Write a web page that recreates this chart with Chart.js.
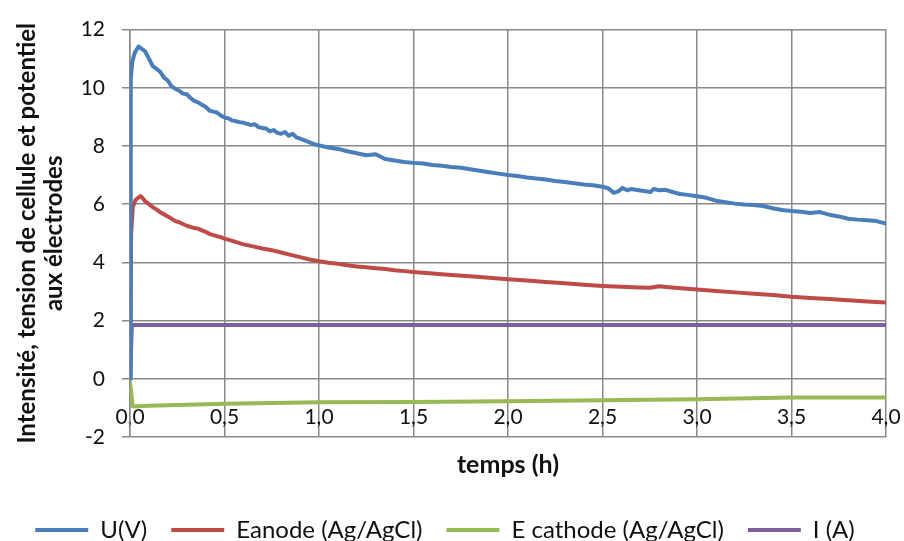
<!DOCTYPE html>
<html>
<head>
<meta charset="utf-8">
<script src="https://cdn.jsdelivr.net/npm/chart.js@4.4.0/dist/chart.umd.min.js"></script>
<style>
  html, body { margin: 0; padding: 0; background: #fff; }
  #wrap { width: 904px; height: 541px; }
</style>
</head>
<body>
<div id="wrap"><canvas id="cellChart"></canvas></div>
<script>
// temps (h) et valeurs
const uTimes = [0, 0.004, 0.012, 0.025, 0.045, 0.06, 0.08, 0.1, 0.12, 0.14, 0.16, 0.18, 0.2, 0.22, 0.24, 0.26, 0.28, 0.3,
  0.32, 0.34, 0.36, 0.38, 0.4, 0.42, 0.44, 0.46, 0.48, 0.5, 0.52, 0.54, 0.56, 0.58, 0.6, 0.62, 0.64, 0.66, 0.68, 0.7,
  0.72, 0.74, 0.76, 0.78, 0.8, 0.82, 0.84, 0.86, 0.88, 0.9, 0.92, 0.94, 0.96, 0.98, 1.0, 1.05, 1.1, 1.15, 1.2, 1.25,
  1.3, 1.35, 1.4, 1.45, 1.5, 1.55, 1.6, 1.65, 1.7, 1.75, 1.8, 1.85, 1.9, 1.95, 2.0, 2.05, 2.1, 2.15, 2.2, 2.25, 2.3,
  2.35, 2.4, 2.45, 2.5, 2.53, 2.56, 2.585, 2.605, 2.63, 2.65, 2.7, 2.755, 2.77, 2.8, 2.83, 2.87, 2.91, 2.95, 3.0,
  3.05, 3.1, 3.15, 3.2, 3.25, 3.3, 3.35, 3.4, 3.45, 3.5, 3.55, 3.6, 3.65, 3.7, 3.75, 3.8, 3.85, 3.9, 3.95, 4.0];
const uValues = [0, 10.3, 10.9, 11.2, 11.42, 11.35, 11.25, 11.0, 10.75, 10.65, 10.55, 10.35, 10.25, 10.05, 9.97, 9.9, 9.8, 9.78,
  9.65, 9.55, 9.5, 9.42, 9.35, 9.22, 9.18, 9.15, 9.05, 8.98, 8.95, 8.88, 8.85, 8.82, 8.8, 8.76, 8.72, 8.75, 8.65, 8.62,
  8.6, 8.5, 8.55, 8.45, 8.42, 8.48, 8.35, 8.42, 8.3, 8.25, 8.2, 8.15, 8.1, 8.05, 8.02, 7.95, 7.9, 7.82, 7.75, 7.68,
  7.72, 7.55, 7.5, 7.45, 7.42, 7.4, 7.35, 7.32, 7.28, 7.25, 7.2, 7.15, 7.1, 7.05, 7.0, 6.97, 6.92, 6.88, 6.85, 6.8, 6.76,
  6.72, 6.68, 6.65, 6.6, 6.55, 6.39, 6.45, 6.56, 6.48, 6.52, 6.47, 6.42, 6.52, 6.48, 6.5, 6.42, 6.35, 6.32, 6.27,
  6.22, 6.12, 6.07, 6.02, 5.99, 5.97, 5.94, 5.86, 5.8, 5.77, 5.74, 5.7, 5.73, 5.64, 5.58, 5.5, 5.47, 5.45, 5.42, 5.33];

const eaTimes = [0, 0.006, 0.015, 0.03, 0.055, 0.065, 0.08, 0.1, 0.12, 0.14, 0.16, 0.18, 0.2, 0.22, 0.24, 0.26, 0.28, 0.3,
  0.32, 0.34, 0.36, 0.38, 0.4, 0.42, 0.44, 0.46, 0.48, 0.5, 0.55, 0.6, 0.65, 0.7, 0.75, 0.8, 0.85, 0.9, 0.95, 1.0, 1.05,
  1.1, 1.15, 1.2, 1.25, 1.3, 1.35, 1.4, 1.45, 1.5, 1.6, 1.7, 1.8, 1.9, 2.0, 2.1, 2.2, 2.3, 2.4, 2.5, 2.6, 2.7, 2.75,
  2.8, 2.85, 2.9, 3.0, 3.1, 3.2, 3.3, 3.4, 3.5, 3.6, 3.7, 3.8, 3.9, 4.0];
const eaValues = [0, 5.0, 5.9, 6.15, 6.28, 6.22, 6.1, 6.0, 5.9, 5.82, 5.72, 5.65, 5.58, 5.5, 5.42, 5.38, 5.32, 5.26,
  5.22, 5.18, 5.16, 5.1, 5.05, 4.98, 4.94, 4.9, 4.87, 4.82, 4.72, 4.62, 4.55, 4.48, 4.42, 4.34, 4.26, 4.18, 4.1, 4.04, 3.99,
  3.95, 3.9, 3.86, 3.83, 3.8, 3.77, 3.73, 3.7, 3.67, 3.62, 3.57, 3.52, 3.47, 3.42, 3.38, 3.33, 3.28, 3.23, 3.19, 3.16, 3.14, 3.13,
  3.18, 3.15, 3.12, 3.07, 3.02, 2.97, 2.92, 2.88, 2.82, 2.78, 2.74, 2.7, 2.66, 2.62];

const ecTimes = [0, 0.015, 0.1, 0.5, 1.0, 1.5, 2.0, 2.5, 3.0, 3.5, 4.0];
const ecValues = [-0.13, -0.95, -0.93, -0.86, -0.81, -0.8, -0.77, -0.74, -0.7, -0.64, -0.64];

const iTimes = [0, 0.01, 4.0];
const iValues = [0, 1.85, 1.85];

const seriesNames = ["U(V)", "Eanode (Ag/AgCl)", "E cathode (Ag/AgCl)", "I (A)"];
const seriesColors = ["#4A7EBB", "#BE4B48", "#98B954", "#7D60A0"];
const yTicks = [-2, 0, 2, 4, 6, 8, 10, 12];

const FONT = "Lato, 'Noto Sans', sans-serif";
const gridGray = "#898989";
const textColor = "#111";

function toPoints(times, values) {
  return times.map((t, i) => ({ x: t, y: values[i] }));
}

function makeSet(idx, times, values) {
  return {
    label: seriesNames[idx],
    data: toPoints(times, values),
    borderColor: seriesColors[idx],
    backgroundColor: seriesColors[idx],
    borderWidth: 4,
    borderCapStyle: 'round',
    borderJoinStyle: 'round',
    pointRadius: 0,
    tension: 0
  };
}

const ctx = document.getElementById("cellChart").getContext("2d");
const cellChart = new Chart(ctx, {
  type: 'line',
  data: {
    datasets: [
      makeSet(0, uTimes, uValues),
      makeSet(1, eaTimes, eaValues),
      makeSet(2, ecTimes, ecValues),
      makeSet(3, iTimes, iValues)
    ]
  },
  options: {
    responsive: true,
    maintainAspectRatio: false,
    animation: false,
    layout: { padding: { left: 4, right: 18, top: 22, bottom: -11 } },
    plugins: {
      tooltip: { enabled: false },
      legend: {
        position: 'bottom',
        title: { display: true, text: ' ', font: { size: 10, lineHeight: 1 }, padding: { top: 47, bottom: 0 } },
        labels: {
          usePointStyle: true,
          pointStyle: 'line',
          pointStyleWidth: 53,
          padding: 24,
          color: textColor,
          font: { family: FONT, size: 24 }
        }
      }
    },
    scales: {
      x: {
        type: 'linear',
        position: { y: 0 },
        min: 0,
        max: 4,
        // les étiquettes débordent sur la marge, pas besoin de réserver de place
        afterFit: scale => { scale.paddingLeft = 0; scale.paddingRight = 0; },
        ticks: {
          stepSize: 0.5,
          padding: 26,
          color: textColor,
          font: { family: FONT, size: 21 },
          maxRotation: 0,
          callback: v => v.toFixed(1).replace('.', ',')
        },
        grid: { color: gridGray, lineWidth: 1.5, drawTicks: false },
        border: { display: false },
        title: {
          display: true,
          text: 'temps (h)',
          color: textColor,
          font: { family: FONT, size: 25, weight: 'bold' },
          padding: { top: -6, bottom: 0 }
        }
      },
      y: {
        min: -2,
        max: 12,
        afterFit: scale => { scale.width = 126; },
        afterBuildTicks: scale => { scale.ticks = yTicks.map(v => ({ value: v })); },
        ticks: {
          padding: 17,
          color: textColor,
          font: { family: FONT, size: 21 },
          callback: v => String(v)
        },
        grid: { color: gridGray, lineWidth: 1.5, tickLength: 8 },
        border: { color: gridGray, width: 1.5 },
        title: {
          display: true,
          text: ['Intensité, tension de cellule et potentiel', 'aux électrodes'],
          color: textColor,
          font: { family: FONT, size: 24, weight: 'bold', lineHeight: 1.15 },
          padding: { top: 9, bottom: 0 }
        }
      }
    }
  }
});
</script>
</body>
</html>
